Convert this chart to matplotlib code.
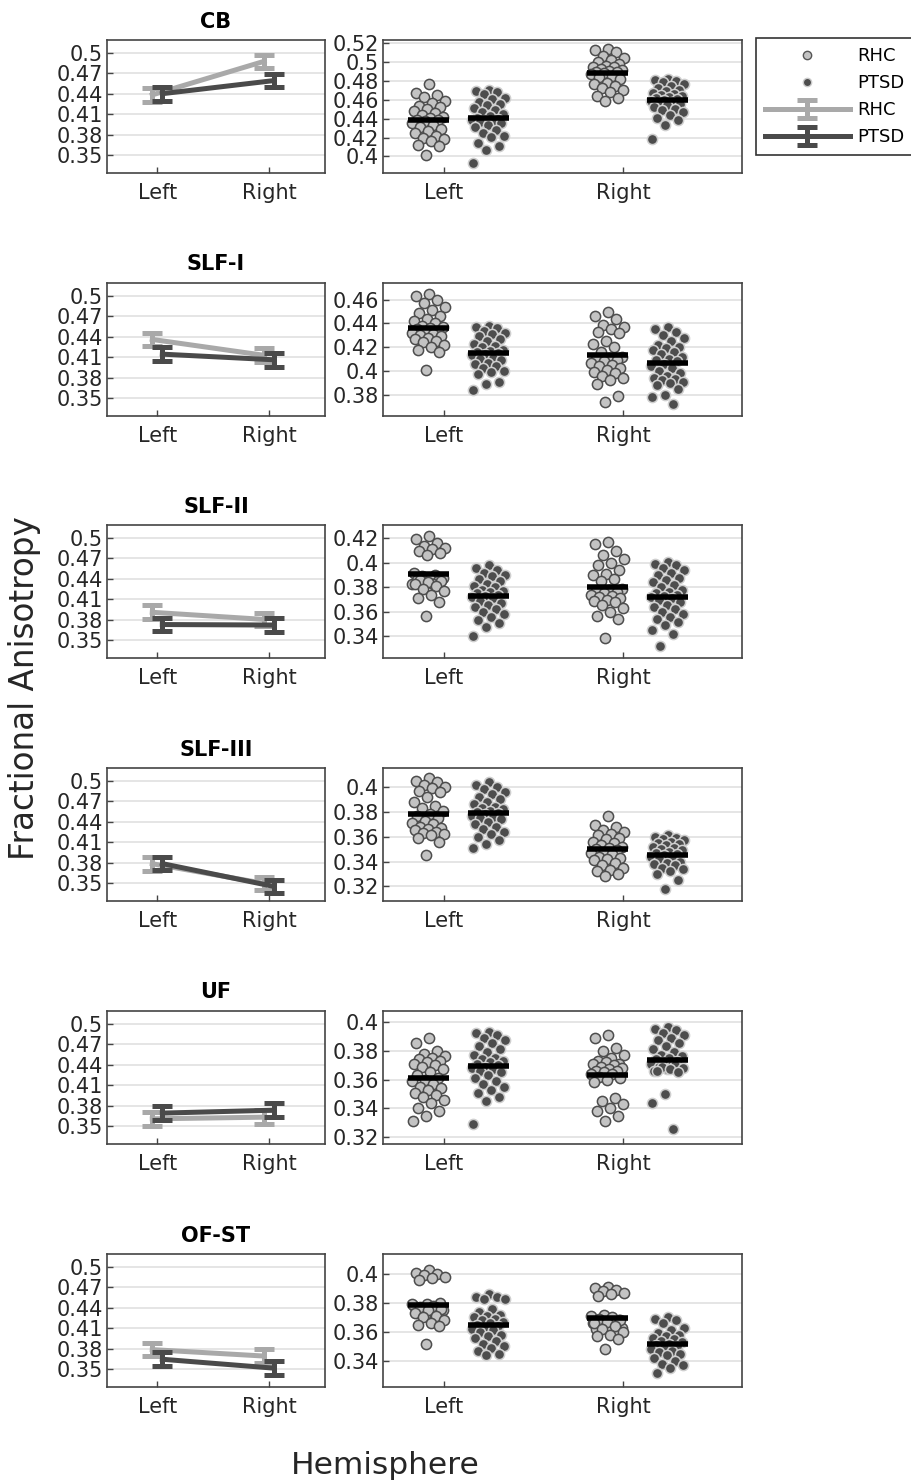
import numpy as np
import matplotlib
matplotlib.use("Agg")
import matplotlib.pyplot as plt
from matplotlib.lines import Line2D

# tracts, in plot order
tracts = ['CB', 'SLF-I', 'SLF-II', 'SLF-III', 'UF', 'OF-ST']
hemis = ['Left', 'Right']
groups = ['RHC', 'PTSD']

# FA values: [tract][hemisphere][group]
fa = {
    'CB': {
        'Left': {
            'RHC': [0.476, 0.467, 0.465, 0.463, 0.459, 0.456, 0.453, 0.452, 0.450, 0.448, 0.446, 0.444, 0.442, 0.441, 0.439,
                    0.438, 0.437, 0.435, 0.433, 0.431, 0.429, 0.427, 0.425, 0.422, 0.420, 0.418, 0.416, 0.412, 0.411, 0.402],
            'PTSD': [0.470, 0.469, 0.468, 0.466, 0.462, 0.461, 0.458, 0.455, 0.454, 0.451, 0.449, 0.447, 0.445, 0.443, 0.441, 0.440,
                     0.439, 0.438, 0.437, 0.436, 0.435, 0.433, 0.431, 0.428, 0.425, 0.422, 0.421, 0.414, 0.411, 0.407, 0.393],
        },
        'Right': {
            'RHC': [0.514, 0.512, 0.510, 0.506, 0.504, 0.502, 0.500, 0.498, 0.496, 0.495, 0.494, 0.492, 0.491, 0.490, 0.4895,
                    0.489, 0.488, 0.487, 0.485, 0.484, 0.482, 0.478, 0.476, 0.474, 0.472, 0.470, 0.468, 0.464, 0.462, 0.459],
            'PTSD': [0.482, 0.481, 0.480, 0.479, 0.477, 0.474, 0.472, 0.470, 0.469, 0.467, 0.466, 0.465, 0.464, 0.463, 0.462, 0.461,
                     0.460, 0.459, 0.458, 0.456, 0.455, 0.454, 0.452, 0.450, 0.449, 0.447, 0.444, 0.441, 0.438, 0.433, 0.418],
        },
    },
    'SLF-I': {
        'Left': {
            'RHC': [0.465, 0.463, 0.460, 0.457, 0.454, 0.451, 0.449, 0.446, 0.444, 0.442, 0.440, 0.438, 0.437, 0.436, 0.435,
                    0.434, 0.433, 0.432, 0.431, 0.430, 0.429, 0.428, 0.427, 0.425, 0.424, 0.422, 0.420, 0.418, 0.416, 0.401],
            'PTSD': [0.438, 0.437, 0.436, 0.434, 0.432, 0.431, 0.429, 0.427, 0.425, 0.423, 0.421, 0.420, 0.418, 0.417, 0.416, 0.415,
                     0.414, 0.413, 0.411, 0.410, 0.409, 0.407, 0.406, 0.404, 0.402, 0.400, 0.399, 0.397, 0.391, 0.389, 0.384],
        },
        'Right': {
            'RHC': [0.450, 0.446, 0.444, 0.439, 0.437, 0.435, 0.433, 0.432, 0.425, 0.423, 0.420, 0.416, 0.412, 0.411, 0.410,
                    0.409, 0.408, 0.407, 0.405, 0.404, 0.402, 0.401, 0.399, 0.398, 0.396, 0.394, 0.392, 0.389, 0.379, 0.374],
            'PTSD': [0.437, 0.435, 0.433, 0.430, 0.428, 0.425, 0.422, 0.420, 0.419, 0.418, 0.416, 0.414, 0.412, 0.410, 0.409, 0.408,
                     0.406, 0.404, 0.402, 0.400, 0.398, 0.396, 0.394, 0.393, 0.392, 0.391, 0.390, 0.388, 0.385, 0.380, 0.378, 0.372],
        },
    },
    'SLF-II': {
        'Left': {
            'RHC': [0.422, 0.419, 0.416, 0.414, 0.412, 0.411, 0.410, 0.408, 0.406, 0.392, 0.390, 0.389, 0.388, 0.387, 0.386,
                    0.385, 0.384, 0.383, 0.383, 0.386, 0.385, 0.384, 0.383, 0.381, 0.379, 0.377, 0.374, 0.371, 0.368, 0.357],
            'PTSD': [0.398, 0.396, 0.394, 0.392, 0.390, 0.389, 0.387, 0.385, 0.383, 0.381, 0.380, 0.378, 0.377, 0.376, 0.375, 0.374,
                     0.373, 0.372, 0.371, 0.369, 0.367, 0.366, 0.364, 0.362, 0.360, 0.358, 0.356, 0.353, 0.351, 0.348, 0.340],
        },
        'Right': {
            'RHC': [0.417, 0.415, 0.410, 0.406, 0.403, 0.400, 0.398, 0.394, 0.391, 0.390, 0.387, 0.385, 0.379, 0.378, 0.377,
                    0.376, 0.375, 0.374, 0.373, 0.372, 0.371, 0.370, 0.369, 0.368, 0.366, 0.363, 0.360, 0.357, 0.354, 0.339],
            'PTSD': [0.401, 0.399, 0.398, 0.396, 0.394, 0.392, 0.390, 0.388, 0.386, 0.384, 0.382, 0.380, 0.378, 0.376, 0.375, 0.374,
                     0.373, 0.372, 0.371, 0.370, 0.368, 0.366, 0.364, 0.362, 0.360, 0.358, 0.356, 0.354, 0.352, 0.349, 0.345,
                     0.342, 0.332],
        },
    },
    'SLF-III': {
        'Left': {
            'RHC': [0.407, 0.405, 0.404, 0.402, 0.400, 0.399, 0.397, 0.396, 0.392, 0.388, 0.385, 0.383, 0.381, 0.378, 0.377,
                    0.375, 0.373, 0.371, 0.370, 0.368, 0.367, 0.366, 0.365, 0.364, 0.363, 0.362, 0.361, 0.359, 0.356, 0.345],
            'PTSD': [0.404, 0.402, 0.400, 0.398, 0.396, 0.394, 0.392, 0.390, 0.388, 0.386, 0.384, 0.383, 0.382, 0.381, 0.380, 0.379,
                     0.378, 0.377, 0.376, 0.375, 0.374, 0.372, 0.370, 0.368, 0.366, 0.364, 0.362, 0.360, 0.357, 0.354, 0.351],
        },
        'Right': {
            'RHC': [0.377, 0.369, 0.368, 0.365, 0.364, 0.362, 0.361, 0.359, 0.358, 0.356, 0.355, 0.353, 0.352, 0.351, 0.350,
                    0.349, 0.348, 0.347, 0.346, 0.344, 0.343, 0.342, 0.341, 0.339, 0.337, 0.335, 0.333, 0.332, 0.330, 0.328],
            'PTSD': [0.361, 0.360, 0.359, 0.358, 0.357, 0.356, 0.355, 0.354, 0.353, 0.352, 0.351, 0.350, 0.349, 0.348, 0.347,
                     0.346, 0.345, 0.344, 0.343, 0.342, 0.340, 0.339, 0.338, 0.337, 0.335, 0.334, 0.332, 0.330, 0.325, 0.318],
        },
    },
    'UF': {
        'Left': {
            'RHC': [0.389, 0.385, 0.380, 0.378, 0.376, 0.375, 0.374, 0.373, 0.372, 0.371, 0.370, 0.369, 0.367, 0.365, 0.363, 0.361,
                    0.360, 0.359, 0.357, 0.355, 0.354, 0.353, 0.351, 0.349, 0.348, 0.346, 0.344, 0.340, 0.338, 0.335, 0.331],
            'PTSD': [0.393, 0.392, 0.391, 0.389, 0.387, 0.385, 0.383, 0.381, 0.379, 0.377, 0.375, 0.374, 0.373, 0.372, 0.371, 0.370,
                     0.369, 0.368, 0.367, 0.366, 0.365, 0.363, 0.361, 0.359, 0.357, 0.355, 0.353, 0.351, 0.348, 0.345, 0.329],
        },
        'Right': {
            'RHC': [0.391, 0.389, 0.382, 0.380, 0.377, 0.375, 0.373, 0.371, 0.372, 0.371, 0.370, 0.369, 0.368, 0.367, 0.366,
                    0.366, 0.365, 0.364, 0.364, 0.362, 0.361, 0.360, 0.358, 0.347, 0.345, 0.343, 0.340, 0.338, 0.335, 0.331],
            'PTSD': [0.396, 0.395, 0.394, 0.392, 0.391, 0.389, 0.387, 0.385, 0.383, 0.381, 0.379, 0.377, 0.376, 0.375, 0.374, 0.373,
                     0.372, 0.371, 0.370, 0.369, 0.368, 0.367, 0.366, 0.370, 0.369, 0.368, 0.367, 0.366, 0.365, 0.350, 0.344, 0.326],
        },
    },
    'OF-ST': {
        'Left': {
            'RHC': [0.403, 0.401, 0.400, 0.399, 0.398, 0.397, 0.396, 0.380, 0.379, 0.378, 0.377, 0.376, 0.375, 0.374, 0.373,
                    0.372, 0.372, 0.379, 0.378, 0.377, 0.376, 0.375, 0.373, 0.371, 0.370, 0.368, 0.366, 0.365, 0.364, 0.352],
            'PTSD': [0.386, 0.384, 0.384, 0.383, 0.383, 0.376, 0.374, 0.372, 0.371, 0.370, 0.369, 0.368, 0.367, 0.366, 0.365,
                     0.364, 0.363, 0.362, 0.361, 0.360, 0.358, 0.357, 0.356, 0.354, 0.352, 0.350, 0.349, 0.347, 0.345, 0.344],
        },
        'Right': {
            'RHC': [0.391, 0.390, 0.389, 0.388, 0.387, 0.386, 0.385, 0.368, 0.367, 0.366, 0.365, 0.364, 0.363, 0.362, 0.362,
                    0.361, 0.372, 0.371, 0.370, 0.369, 0.368, 0.367, 0.366, 0.364, 0.362, 0.360, 0.358, 0.357, 0.355, 0.348],
            'PTSD': [0.370, 0.369, 0.368, 0.366, 0.363, 0.361, 0.359, 0.358, 0.357, 0.356, 0.355, 0.354, 0.353, 0.352, 0.351,
                     0.350, 0.349, 0.348, 0.347, 0.346, 0.345, 0.344, 0.342, 0.340, 0.338, 0.337, 0.335, 0.332],
        },
    },
}

# error bar half-lengths (same for all cells)
err_bar = 0.01

# y ranges of the strip panels, as seen in the picture
strip_ylim = {
    'CB': (0.3825, 0.523), 'SLF-I': (0.362, 0.474), 'SLF-II': (0.3224, 0.4308),
    'SLF-III': (0.3082, 0.4153), 'UF': (0.3154, 0.4074), 'OF-ST': (0.322, 0.4138),
}
strip_yticks = {
    'CB': [0.4, 0.42, 0.44, 0.46, 0.48, 0.5, 0.52],
    'SLF-I': [0.38, 0.4, 0.42, 0.44, 0.46],
    'SLF-II': [0.34, 0.36, 0.38, 0.4, 0.42],
    'SLF-III': [0.32, 0.34, 0.36, 0.38, 0.4],
    'UF': [0.32, 0.34, 0.36, 0.38, 0.4],
    'OF-ST': [0.34, 0.36, 0.38, 0.4],
}
mean_yticks = [0.35, 0.38, 0.41, 0.44, 0.47, 0.5]

# styling
c_rhc, c_ptsd = '#a9a9a9', '#4a4a4a'
dot_face = {'RHC': '#c3c3c3', 'PTSD': '#4d4d4d'}
dot_edge = {'RHC': '#4d4d4d', 'PTSD': '#cfcfcf'}
line_col = {'RHC': c_rhc, 'PTSD': c_ptsd}
txt_col = '#262626'
spine_col = '#444444'
grid_col = '#e0e0e0'

W, H = 911, 1482
fig = plt.figure(figsize=(W / 100, H / 100), dpi=100)

row_tops = [40, 283, 525, 768, 1011, 1254]
ax_h = 133
lx0, lx1 = 107, 325
rx0, rx1 = 383, 742
jit = 0.095  # half-width of the strip jitter, x units


def style_ax(ax):
    for s in ax.spines.values():
        s.set_color(spine_col)
        s.set_linewidth(1.2)
    ax.tick_params(direction='in', length=4, width=1, color=spine_col,
                   labelsize=15, labelcolor=txt_col, pad=3)
    ax.tick_params(axis='x', pad=7)
    ax.grid(axis='y', color=grid_col, lw=1.2, zorder=0)
    ax.set_axisbelow(True)


def spread(n, half):
    # deterministic golden-ratio jitter in [-half, half]
    k = np.arange(n)
    return ((k * 0.6180339887 + 0.5) % 1.0 - 0.5) * 2 * half


eb_handles = {}
for r, tract in enumerate(tracts):
    top = row_tops[r]
    bottom = 1 - (top + ax_h) / H
    axl = fig.add_axes([lx0 / W, bottom, (lx1 - lx0) / W, ax_h / H])
    axr = fig.add_axes([rx0 / W, bottom, (rx1 - rx0) / W, ax_h / H])
    style_ax(axl)
    style_ax(axr)

    # left: group means with error bars
    for g, off in zip(groups, [-0.045, 0.045]):
        means = [np.mean(fa[tract][h][g]) for h in hemis]
        eb = axl.errorbar(np.arange(2) + off, means, yerr=err_bar, color=line_col[g],
                          lw=3.6, elinewidth=3.6, capsize=7, capthick=3.6,
                          zorder=3 if g == 'RHC' else 4, label=g)
        eb_handles[g] = eb
    axl.set_xlim(-0.45, 1.5)
    axl.set_ylim(0.324, 0.519)
    axl.set_xticks([0, 1])
    axl.set_xticklabels(hemis)
    axl.set_yticks(mean_yticks)
    axl.set_yticklabels(['{:g}'.format(t) for t in mean_yticks])
    axl.set_title(tract, fontsize=15, fontweight='bold', color='black', pad=9)

    # right: individual subjects
    ylo, yhi = strip_ylim[tract]
    axr.set_xlim(-0.34, 1.665)
    axr.set_ylim(ylo, yhi)
    for h_i, h in enumerate(hemis):
        for g, off in zip(groups, [-0.085, 0.25]):
            v = np.array(fa[tract][h][g])
            xs = spread(len(v), jit)
            axr.scatter(h_i + off + xs, v, s=54, c=dot_face[g], edgecolors=dot_edge[g],
                        linewidths=1.1, zorder=3)
            axr.hlines(np.mean(v), h_i + off - 0.115, h_i + off + 0.115, color='black',
                       lw=4, zorder=5)
    axr.set_xticks([0, 1])
    axr.set_xticklabels(hemis)
    yt = strip_yticks[tract]
    axr.set_yticks(yt)
    axr.set_yticklabels(['{:g}'.format(t) for t in yt])

# legend
pt_rhc = Line2D([], [], ls='none', marker='o', ms=6, mfc=dot_face['RHC'], mec='#555555', mew=1)
pt_ptsd = Line2D([], [], ls='none', marker='o', ms=6, mfc=dot_face['PTSD'], mec='#cccccc', mew=1)
leg = fig.legend([pt_rhc, pt_ptsd, eb_handles['RHC'], eb_handles['PTSD']],
                 ['RHC', 'PTSD', 'RHC', 'PTSD'],
                 loc='upper left', bbox_to_anchor=(756 / W, 1 - 38 / H), borderaxespad=0,
                 fontsize=13, handlelength=4.7, fancybox=False, framealpha=1,
                 edgecolor='#333333', labelspacing=0.5, handletextpad=0.4, borderpad=0.5)
leg.get_frame().set_linewidth(1.2)

fig.text(25 / W, 1 - 688 / H, 'Fractional Anisotropy', rotation=90, ha='center', va='center',
         fontsize=23.5, color=txt_col)
fig.text(385 / W, 1 - 1465 / H, 'Hemisphere', ha='center', va='center', fontsize=22.5, color=txt_col)

fig.savefig('out.png', dpi=100)
